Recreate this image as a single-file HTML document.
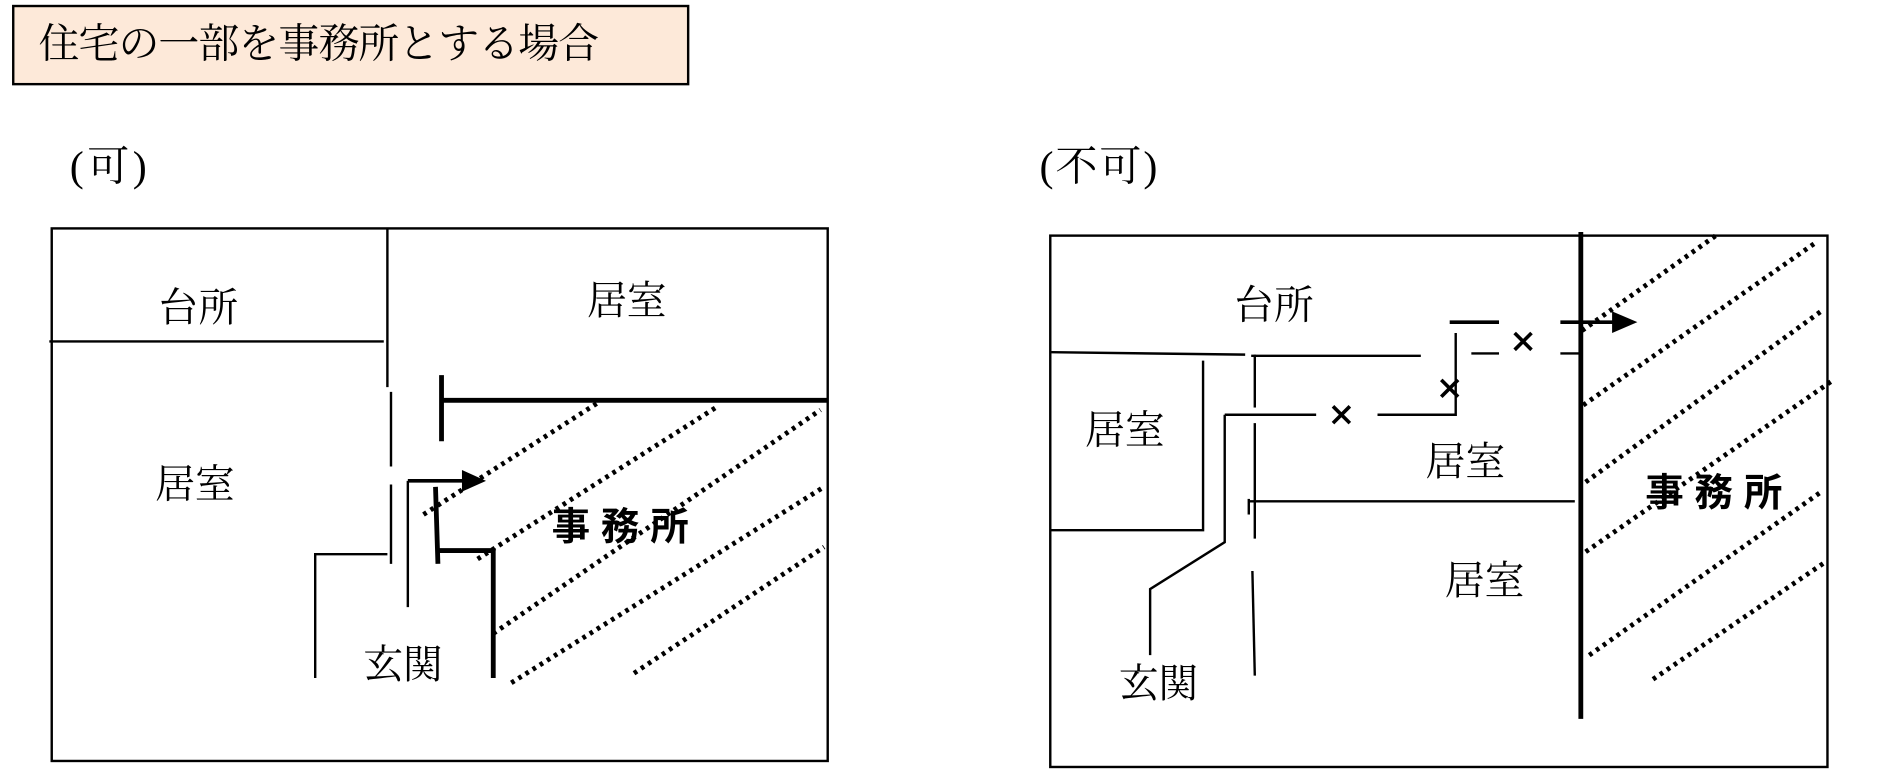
<!DOCTYPE html>
<html><head><meta charset="utf-8"><style>
html,body{margin:0;padding:0;background:#fff;}
svg{display:block;}
text{font-family:"Liberation Serif","Noto Serif CJK JP",serif;fill:#000;}
.b{font-family:"Liberation Sans","Noto Sans CJK JP",sans-serif;font-weight:bold;}
</style></head><body>
<svg width="1884" height="779" viewBox="0 0 1566 648" preserveAspectRatio="none" xmlns="http://www.w3.org/2000/svg">
<rect x="11" y="5" width="561" height="65" fill="#fde9d9" stroke="#000" stroke-width="2"/>
<text x="32" y="48" font-size="34" textLength="466">住宅の一部を事務所とする場合</text>
<text x="58" y="150" font-size="35" textLength="64">(可)</text>
<text x="864" y="150" font-size="35" textLength="98">(不可)</text>

<g stroke="#000" fill="none">
<rect x="43" y="190" width="645" height="443" stroke-width="2"/>
<line x1="322" y1="190" x2="322" y2="322" stroke-width="2"/>
<line x1="325" y1="326" x2="325" y2="388" stroke-width="2"/>
<line x1="325" y1="403" x2="325" y2="469" stroke-width="2"/>
<line x1="41" y1="284" x2="319" y2="284" stroke-width="2"/>
<line x1="367" y1="312" x2="367" y2="367" stroke-width="4"/>
<line x1="367" y1="333" x2="688" y2="333" stroke-width="4"/>
<line x1="339" y1="400" x2="339" y2="505" stroke-width="2"/>
<line x1="339" y1="400" x2="386" y2="400" stroke-width="3"/>
<line x1="362" y1="405" x2="364" y2="469" stroke-width="4"/>
<polyline points="364,458 410,458 410,564" stroke-width="4"/>
<polyline points="262,564 262,461 322,461" stroke-width="2"/>
<g stroke-width="4" stroke-dasharray="3 4">
<line x1="352" y1="428" x2="497" y2="335"/>
<line x1="397" y1="465" x2="595" y2="339"/>
<line x1="410" y1="527" x2="682" y2="341"/>
<line x1="425" y1="568" x2="685" y2="405"/>
<line x1="527" y1="560" x2="685" y2="455"/>
</g>

<rect x="873" y="196" width="646" height="442" stroke-width="2"/>
<line x1="1314" y1="193" x2="1314" y2="598" stroke-width="4"/>
<line x1="874" y1="293" x2="1035" y2="295" stroke-width="2"/>
<line x1="1040" y1="296" x2="1181" y2="296" stroke-width="2"/>
<polyline points="873,441 1000,441 1000,300" stroke-width="2"/>
<line x1="1043" y1="295" x2="1043" y2="339" stroke-width="2"/>
<line x1="1043" y1="352" x2="1043" y2="448" stroke-width="2"/>
<line x1="1041" y1="475" x2="1043" y2="562" stroke-width="2"/>
<line x1="1038" y1="415" x2="1038" y2="428" stroke-width="2"/>
<line x1="1018" y1="345" x2="1094" y2="345" stroke-width="2"/>
<polyline points="1145,345 1210,345 1210,277" stroke-width="2"/>
<line x1="1205" y1="268" x2="1246" y2="268" stroke-width="3"/>
<line x1="1223" y1="294" x2="1246" y2="294" stroke-width="2"/>
<line x1="1297" y1="268" x2="1342" y2="268" stroke-width="3"/>
<line x1="1297" y1="294" x2="1314" y2="294" stroke-width="2"/>
<polyline points="1018,345 1018,451 956,490 956,545" stroke-width="2"/>
<line x1="1038" y1="417" x2="1309" y2="417" stroke-width="2"/>
<g stroke-width="3">
<path d="M1108,338 l14,14 M1122,338 l-14,14"/>
<path d="M1198,316 l14,14 M1212,316 l-14,14"/>
<path d="M1259,277 l14,14 M1273,277 l-14,14"/>
</g>
<g stroke-width="4" stroke-dasharray="3 4">
<line x1="1315" y1="275" x2="1429" y2="194"/>
<line x1="1316" y1="337" x2="1509" y2="202"/>
<line x1="1318" y1="401" x2="1515" y2="258"/>
<line x1="1318" y1="459" x2="1524" y2="316"/>
<line x1="1321" y1="545" x2="1514" y2="409"/>
<line x1="1374" y1="565" x2="1518" y2="467"/>
</g>
</g>
<polygon points="384,391 404,400 384,409" fill="#000"/>
<polygon points="1340,259 1361,268 1340,277" fill="#000"/>

<g font-size="33" text-anchor="middle">
<text x="165" y="267">台所</text>
<text x="521" y="261">居室</text>
<text x="162" y="414">居室</text>
<text x="335" y="564">玄関</text>
<text x="1059" y="265">台所</text>
<text x="935" y="369">居室</text>
<text x="1218" y="395">居室</text>
<text x="1234" y="494">居室</text>
<text x="963" y="580">玄関</text>
</g>
<text class="b" x="520" y="449" font-size="32" text-anchor="middle" letter-spacing="9">事務所</text>
<text class="b" x="1429" y="421" font-size="32" text-anchor="middle" letter-spacing="9">事務所</text>
</svg>
</body></html>
